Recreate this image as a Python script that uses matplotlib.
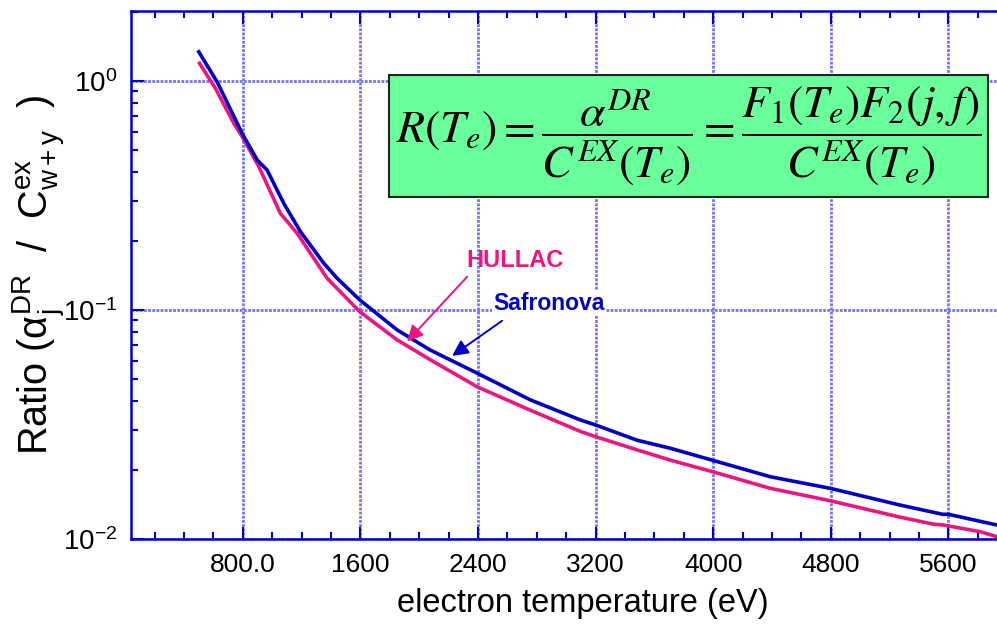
import matplotlib
matplotlib.use("Agg")
import matplotlib.pyplot as plt
from matplotlib.patches import Rectangle
from matplotlib.ticker import MultipleLocator, LogLocator, NullFormatter

plt.rcParams['font.family'] = ['Liberation Sans', 'DejaVu Sans']
plt.rcParams['mathtext.fontset'] = 'custom'
plt.rcParams['mathtext.rm'] = 'Liberation Sans'
plt.rcParams['mathtext.it'] = 'Liberation Sans:italic'
plt.rcParams['mathtext.bf'] = 'Liberation Sans:bold'

# Ratio of DR rate to w+y excitation rate vs electron temperature
te_safronova = [501, 626, 796, 898, 966, 1079, 1192, 1351, 1442, 1596, 1850,
                2076, 2394, 2756, 3096, 3198, 3482, 3708, 3992, 4388, 4796,
                5272, 5560, 5600, 5929]
ratio_safronova = [1.34, 0.99, 0.59, 0.452, 0.408, 0.292, 0.220, 0.160, 0.1375,
                   0.1106, 0.0818, 0.0668, 0.0530, 0.0405, 0.0331, 0.0315,
                   0.0270, 0.0249, 0.0221, 0.0187, 0.01664, 0.01406, 0.01282,
                   0.01282, 0.01151]

te_hullac = [506, 614, 739, 796, 909, 1056, 1170, 1374, 1596, 1850, 2076,
             2394, 2756, 3096, 3198, 3482, 3708, 3992, 4388, 4796, 5272,
             5500, 5566, 5816, 5929]
ratio_hullac = [1.194, 0.929, 0.653, 0.571, 0.423, 0.264, 0.216, 0.1375,
                0.0983, 0.0740, 0.0606, 0.0462, 0.0365, 0.0295, 0.0280,
                0.0245, 0.0221, 0.0197, 0.01664, 0.01469, 0.01245, 0.01160,
                0.01151, 0.01076, 0.01023]

xtick_values = [800, 1600, 2400, 3200, 4000, 4800, 5600]
xtick_labels = ['800.0', '1600', '2400', '3200', '4000', '4800', '5600']
ytick_values = [1e-2, 1e-1, 1e0]
ytick_labels = [r'$\mathregular{10^{-2}}$', r'$\mathregular{10^{-1}}$',
                r'$\mathregular{10^{0}}$']

BLUE = '#0000c8'
PINK = '#f0147f'
AXIS_BLUE = '#0000d0'
GRID = '#7474f2'

fig = plt.figure(figsize=(9.97, 6.31), dpi=100)
ax = fig.add_axes([131 / 997, 92 / 631, 866 / 997, 528 / 631])

ax.plot(te_hullac, ratio_hullac, color=PINK, lw=2.6, zorder=3)
ax.plot(te_safronova, ratio_safronova, color=BLUE, lw=2.6, zorder=4)

ax.set_yscale('log')
ax.set_xlim(40, 5930)
ax.set_ylim(1e-2, 2.02)

ax.set_xticks(xtick_values)
ax.set_xticklabels(xtick_labels, fontsize=19)
ax.xaxis.set_minor_locator(MultipleLocator(200))
ax.set_yticks(ytick_values)
ax.set_yticklabels(ytick_labels, fontsize=20)
ax.yaxis.set_minor_locator(LogLocator(base=10, subs=range(2, 10)))
ax.yaxis.set_minor_formatter(NullFormatter())

ax.tick_params(which='both', direction='in', color=AXIS_BLUE, width=1.5,
               top=True, right=False, labelcolor='black')
ax.tick_params(which='major', length=9, pad=10)
ax.tick_params(which='minor', length=5)

for side in ('left', 'bottom', 'top'):
    ax.spines[side].set_color(AXIS_BLUE)
    ax.spines[side].set_linewidth(1.8)
ax.spines['right'].set_visible(False)

ax.grid(True, which='major', color=GRID, lw=2.0, linestyle=(0, (1, 0.5)), zorder=1)
ax.set_axisbelow(True)

ax.set_xlabel('electron temperature (eV)', fontsize=23.5)
ax.xaxis.set_label_coords(0.522, -0.093)
ax.set_ylabel(r'Ratio ($\mathregular{\alpha^{DR}_{j}}$  /  $\mathregular{C^{ex}_{w+y}}$  )',
              fontsize=28.5)
ax.yaxis.set_label_coords(-0.074, 0.50)

# formula box
box = Rectangle((0.298, 0.6477), 0.6916, 0.2313, transform=ax.transAxes,
                facecolor='#69ff9b', edgecolor='#222222', lw=1.5, zorder=5)
ax.add_patch(box)
ax.text(0.6438, 0.7635,
        r'$R(T_e) = \dfrac{\alpha^{DR}}{C^{EX}(T_e)} = \dfrac{F_1(T_e)F_2(j,f)}{C^{EX}(T_e)}$',
        transform=ax.transAxes, ha='center', va='center', fontsize=33,
        math_fontfamily='stix', zorder=6)

# curve labels with arrows
ax.text(2651, 0.165, 'HULLAC', color=PINK, fontsize=17, fontweight='bold',
        ha='center', va='center', zorder=6)
ax.annotate('', xy=(1918, 0.0728), xytext=(2326, 0.1396),
            arrowprops=dict(arrowstyle='-|>', color=PINK, lw=1.4,
                            mutation_scale=24, shrinkA=0, shrinkB=0), zorder=6)
ax.text(2881, 0.107, 'Safronova', color=BLUE, fontsize=16.5, fontweight='bold',
        ha='center', va='center', zorder=6,
        bbox=dict(facecolor='white', edgecolor='none', pad=1))
ax.annotate('', xy=(2224, 0.0630), xytext=(2564, 0.0897),
            arrowprops=dict(arrowstyle='-|>', color=BLUE, lw=1.4,
                            mutation_scale=24, shrinkA=0, shrinkB=0), zorder=6)

fig.savefig('out.png', dpi=100)
